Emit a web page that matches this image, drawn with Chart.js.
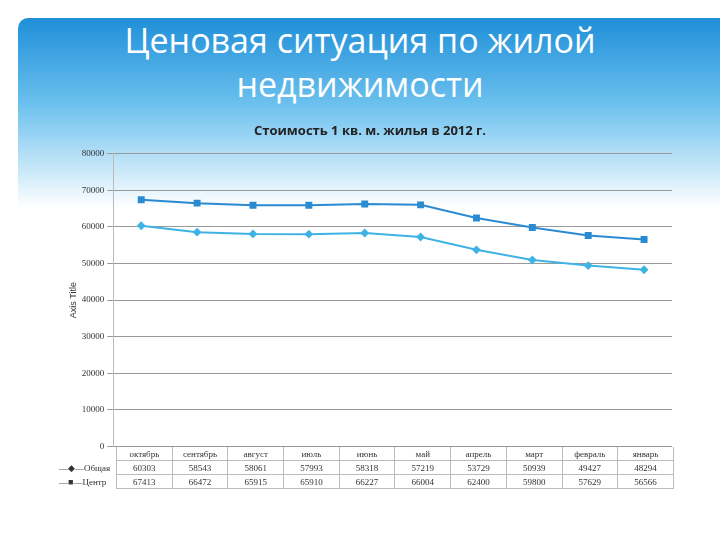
<!DOCTYPE html>
<html><head><meta charset="utf-8">
<script src="https://cdn.jsdelivr.net/npm/chart.js@4"></script>
<style>
body{margin:0;width:720px;height:540px;position:relative;background:#fff;font-family:"Open Sans",sans-serif;overflow:hidden}
#head{position:absolute;left:18px;top:18px;width:702px;height:190px;background:linear-gradient(180deg,#1f8fd8 0%,#6bc0ee 45%,#ffffff 100%);border-top-left-radius:10px}
#title{position:absolute;left:0;top:18px;width:720px;text-align:center;color:#fff;font-size:34px;line-height:44px;font-family:"Open Sans"}
#wrap{position:absolute;left:50px;top:115px;width:630px;height:340px}
#tbl{position:absolute;left:57px;top:447px;border-collapse:collapse;font-size:9px;color:#333;font-family:"Liberation Serif"}
#tbl td{border:1px solid #bbb;height:13px;padding:0;text-align:center;width:54.7px}
#tbl td.h{width:57px;text-align:left;border:none;padding-left:2px}
#tbl tr:first-child td{border-top:none}
</style></head><body>
<div id="head"></div>
<div id="title">Ценовая ситуация по жилой<br>недвижимости</div>
<div id="wrap"><canvas id="c"></canvas></div>
<table id="tbl"></table>
<script>
const months = ["октябрь","сентябрь","август","июль","июнь","май","апрель","март","февраль","январь"];
const obshaya = [60303,58543,58061,57993,58318,57219,53729,50939,49427,48294];
const centr = [67413,66472,65915,65910,66227,66004,62400,59800,57629,56566];
const yTicks = [0,10000,20000,30000,40000,50000,60000,70000,80000];

const tbl = document.getElementById("tbl");
function row(label, vals){
  const tr = document.createElement("tr");
  tr.innerHTML = `<td class="h">${label}</td>` + vals.map(v => `<td>${v}</td>`).join("");
  tbl.appendChild(tr);
}
row("", months);
row("—◆—Общая", obshaya);
row("—■—Центр", centr);

new Chart(document.getElementById("c"), {
  type: "line",
  data: {
    labels: months,
    datasets: [
      { label: "Общая", data: obshaya, borderColor: "#3fb3e3", backgroundColor: "#3fb3e3", borderWidth: 2, pointStyle: "rectRot", pointRadius: 3, tension: 0 },
      { label: "Центр", data: centr, borderColor: "#2a8bd2", backgroundColor: "#2a8bd2", borderWidth: 2, pointStyle: "rect", pointRadius: 3.5, tension: 0 },
    ],
  },
  options: {
    responsive: true,
    maintainAspectRatio: false,
    animation: false,
    layout: { padding: { left: 18, right: 8, top: 0, bottom: 0 } },
    plugins: {
      legend: { display: false },
      tooltip: { enabled: false },
      title: { display: true, text: "Стоимость 1 кв. м. жилья в 2012 г.", color: "#222", font: { size: 13, weight: "bold", family: "Open Sans" }, padding: { top: 8, bottom: 15 } },
    },
    scales: {
      x: {
        offset: true,
        grid: { display: false },
        border: { display: false },
        ticks: { display: false },
      },
      y: {
        min: 0, max: 80000,
        afterBuildTicks: (axis) => { axis.ticks = yTicks.map(v => ({ value: v })); },
        grid: { color: "#999", tickLength: 6 },
        border: { display: true, color: "#bbb" },
        title: { display: true, text: "Axis Title", font: { size: 9 }, color: "#333", padding: 0 },
        ticks: { color: "#333", font: { size: 9, family: "Liberation Serif" }, callback: (v) => String(v) },
      },
    },
  },
});
</script>
</body></html>
